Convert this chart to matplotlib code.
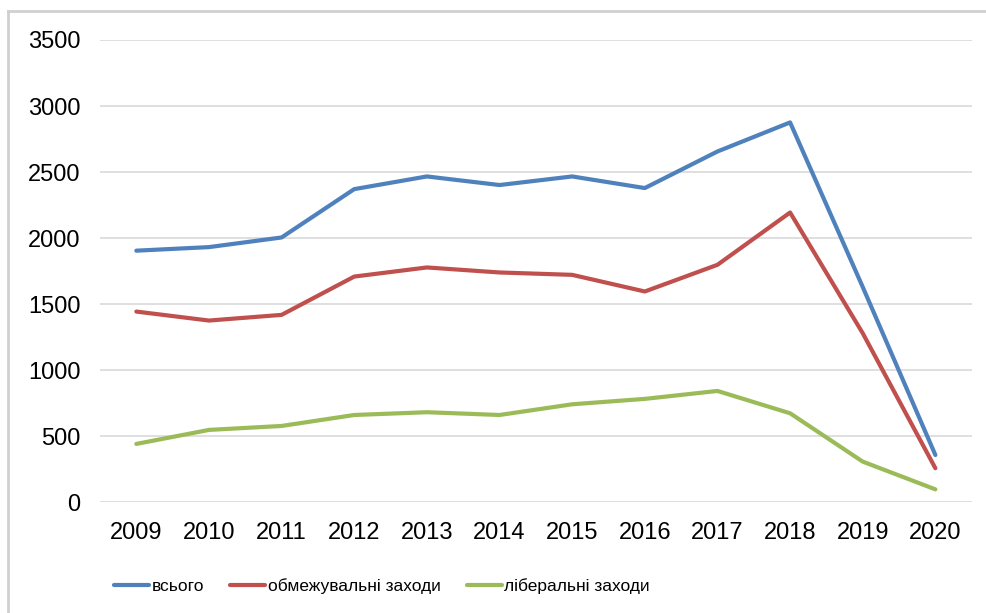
import matplotlib
matplotlib.use("Agg")
import matplotlib.pyplot as plt
from matplotlib.lines import Line2D

plt.rcParams['font.family'] = ['Liberation Sans', 'DejaVu Sans']

# data
years = ["2009", "2010", "2011", "2012", "2013", "2014",
         "2015", "2016", "2017", "2018", "2019", "2020"]
total = [1905, 1932, 2005, 2371, 2467, 2402, 2467, 2379, 2656, 2876, 1630, 358]
restrictive = [1444, 1376, 1419, 1709, 1778, 1740, 1722, 1596, 1798, 2194, 1280, 258]
liberal = [442, 548, 578, 661, 682, 661, 742, 783, 843, 674, 308, 98]
labels = ["всього", "обмежувальні заходи", "ліберальні заходи"]
colors = ["#4F81BD", "#C0504D", "#9BBB59"]
yticks = [0, 500, 1000, 1500, 2000, 2500, 3000, 3500]

fig = plt.figure(figsize=(9.87, 6.13), dpi=100)
ax = fig.add_axes([100 / 987, 1 - 502.3 / 613, 871.7 / 987, 462.3 / 613])

x = list(range(len(years)))
for series, lab, col in zip([total, restrictive, liberal], labels, colors):
    ax.plot(x, series, color=col, lw=3.0, label=lab,
            solid_joinstyle="round", solid_capstyle="round")

ax.set_xlim(-0.5, len(years) - 0.5)
ax.set_ylim(0, 3500)
ax.set_xticks(x)
ax.set_xticklabels(years)
ax.set_yticks(yticks)
ax.tick_params(axis="both", length=0, labelsize=17, colors="#000000")
ax.tick_params(axis="y", pad=14)
ax.tick_params(axis="x", pad=14)
ax.grid(axis="y", color="#D9D9D9", lw=1.2)
ax.set_axisbelow(True)
for s in ax.spines.values():
    s.set_visible(False)

leg = ax.legend(loc="center left", bbox_to_anchor=(114 / 987, 1 - 586 / 613),
                bbox_transform=fig.transFigure, ncol=3, frameon=False,
                fontsize=12.5, handlelength=2.0, handletextpad=0.17,
                columnspacing=1.5, borderpad=0, borderaxespad=0)

# outer chart border (top and left only visible)
fig.add_artist(Line2D([8 / 987, 1], [1 - 11 / 613, 1 - 11 / 613],
                      transform=fig.transFigure, color="#D0D0D0", lw=2))
fig.add_artist(Line2D([8 / 987, 8 / 987], [0, 1 - 11 / 613],
                      transform=fig.transFigure, color="#D0D0D0", lw=2))

fig.savefig("out.png", dpi=100)
